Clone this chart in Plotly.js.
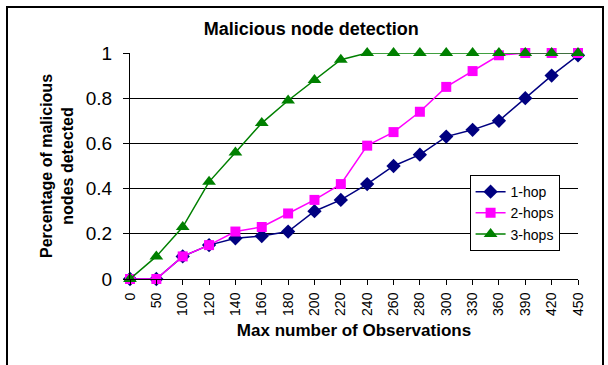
<!DOCTYPE html>
<html>
<head>
<meta charset="utf-8">
<script src="https://cdn.plot.ly/plotly-3.0.1.min.js"></script>
<style>
  html, body { margin: 0; padding: 0; background: #fff; }
  #wrap { position: relative; width: 608px; height: 365px; overflow: hidden; }
  #chart { width: 608px; height: 365px; }
  #frame { position: absolute; left: 6px; top: 6px; width: 598px; height: 380px;
           border: 2px solid #000; box-sizing: border-box; pointer-events: none; }
</style>
</head>
<body>
<div id="wrap">
  <div id="chart"></div>
  <div id="frame"></div>
</div>
<script>
// Max number of observations (evenly spaced categories)
const observations = ['0','50','100','120','140','160','180','200','220','240','260','280','300','330','360','390','420','450'];

// Fraction of malicious nodes detected
const hop1  = [0, 0, 0.10, 0.15, 0.18, 0.19, 0.21, 0.30, 0.35, 0.42, 0.50, 0.55, 0.63, 0.66, 0.70, 0.80, 0.90, 0.99];
const hops2 = [0, 0, 0.10, 0.15, 0.21, 0.23, 0.29, 0.35, 0.42, 0.59, 0.65, 0.74, 0.85, 0.92, 0.99, 1.00, 1.00, 1.00];
const hops3 = [0, 0.10, 0.23, 0.43, 0.56, 0.69, 0.79, 0.88, 0.97, 1.00, 1.00, 1.00, 1.00, 1.00, 1.00, 1.00, 1.00, 1.00];

const yTicks = [0, 0.2, 0.4, 0.6, 0.8, 1];
const yTickText = ['0', '0.2', '0.4', '0.6', '0.8', '1'];

const FONT = 'Liberation Sans, Arial, sans-serif';

function series(name, y, color, symbol, size) {
  return {
    type: 'scatter', mode: 'lines+markers', name: name,
    x: observations, y: y,
    legendgroup: name,
    line: { color: color, width: 1.5 },
    marker: { color: color, symbol: symbol, size: size, line: { width: 0 } },
    cliponaxis: false
  };
}

const data = [
  series('1-hop', hop1, '#000080', 'diamond', 11),
  series('2-hops', hops2, '#FF00FF', 'square', 10),
  series('3-hops', hops3, '#008000', 'triangle-up', 12)
];

const layout = {
  width: 608, height: 365,
  margin: { l: 130, r: 30, t: 53, b: 86 },
  paper_bgcolor: '#fff', plot_bgcolor: '#fff',
  font: { family: FONT, color: '#000' },
  title: {
    text: '<b>Malicious node detection</b>',
    font: { family: FONT, size: 18, color: '#000' },
    x: 0.512, xanchor: 'center', y: 0.922, yanchor: 'middle'
  },
  xaxis: {
    type: 'category', range: [0, 17],
    tickangle: -90, tickfont: { family: FONT, size: 14 },
    ticks: 'outside', ticklen: 5, tickcolor: '#000', ticklabelstandoff: 2,
    showline: true, linecolor: '#000', linewidth: 1,
    showgrid: false, zeroline: false,
    title: { text: '<b>Max number of Observations</b>', font: { family: FONT, size: 17 }, standoff: 9 }
  },
  yaxis: {
    range: [0, 1], tickvals: yTicks, ticktext: yTickText,
    tickfont: { family: FONT, size: 19 },
    ticks: 'outside', ticklen: 6, tickcolor: '#000', ticklabelstandoff: 7,
    showline: true, linecolor: '#000', linewidth: 1,
    showgrid: true, gridcolor: '#000', gridwidth: 1, zeroline: false,
    title: { text: '<b>Percentage of malicious<br>nodes detected</b>', font: { family: FONT, size: 16 }, standoff: 8 }
  },
  showlegend: true,
  legend: {
    x: 0.758, xanchor: 'left', y: 0.46, yanchor: 'top',
    bgcolor: '#fff', bordercolor: '#000', borderwidth: 1,
    font: { family: FONT, size: 14 },
    traceorder: 'grouped', tracegroupgap: 0
  }
};

Plotly.newPlot('chart', data, layout, { staticPlot: true, displayModeBar: false });
</script>
</body>
</html>
